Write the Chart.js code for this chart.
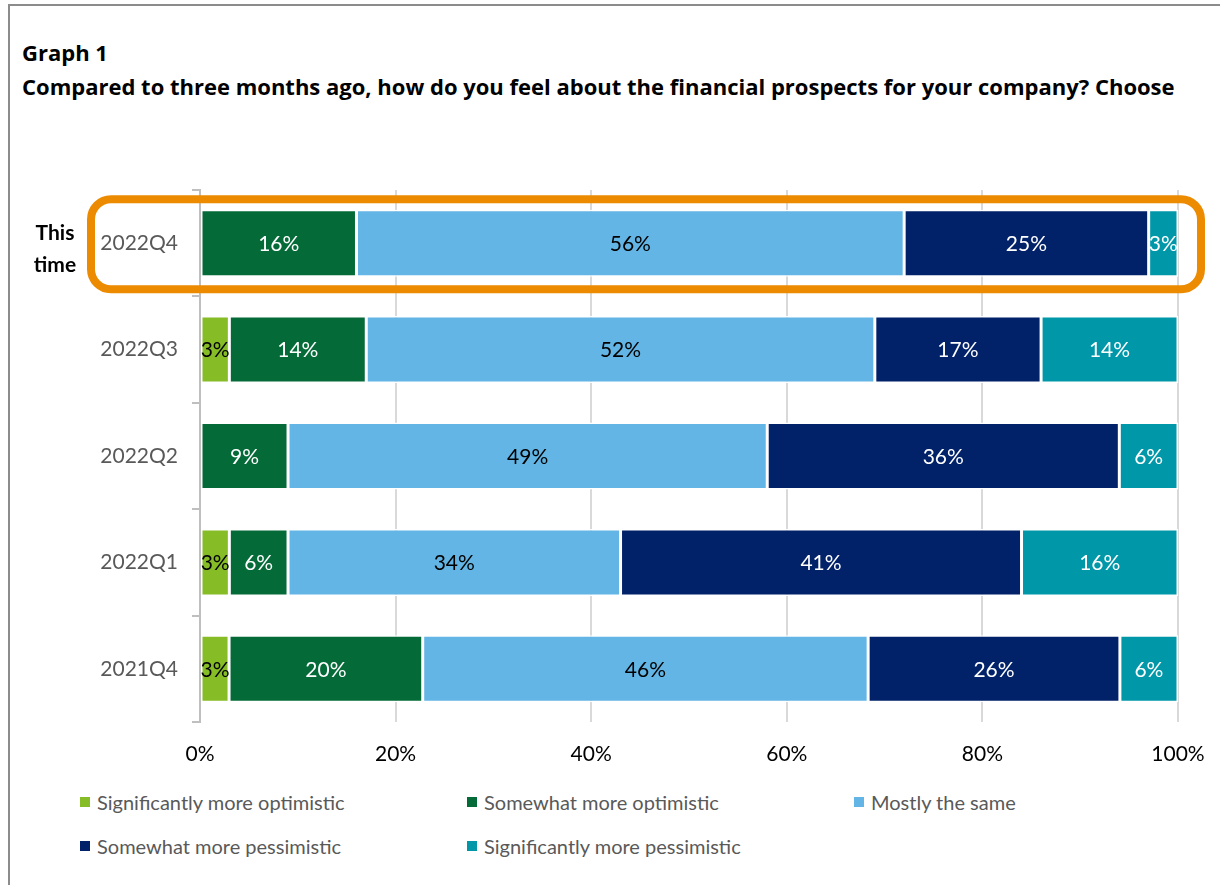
<!DOCTYPE html>
<html>
<head>
<meta charset="utf-8">
<script src="https://cdn.jsdelivr.net/npm/chart.js@4.4.1/dist/chart.umd.min.js"></script>
<style>
    html, body { margin: 0; padding: 0; background: #fff; }
    body { width: 1220px; height: 885px; position: relative; overflow: hidden; font-family: Lato, "Open Sans", sans-serif; }
    .frame { position: absolute; left: 8px; top: 4px; width: 1300px; height: 1000px; border-left: 2px solid #8c8c8c; border-top: 2px solid #8c8c8c; }
    .title { position: absolute; left: 22px; top: 35px; font-family: "Open Sans", sans-serif; font-weight: bold; font-size: 22px; line-height: 34px; color: #000; white-space: nowrap; }
    #chartBox { position: absolute; left: 10px; top: 170px; width: 1210px; height: 607px; }
    .legend { position: absolute; left: 80px; top: 789px; display: grid; grid-template-columns: 387px 387px 330px; row-gap: 18px; }
    .legend span { display: flex; align-items: center; font-size: 20px; color: #595959; height: 26px; white-space: nowrap; }
    .legend i { display: inline-block; width: 10px; height: 10px; margin-right: 7px; }
</style>
</head>
<body>
<div class="frame"></div>
<div class="title">Graph 1<br>Compared to three months ago, how do you feel about the financial prospects for your company? Choose</div>
<div id="chartBox"><canvas id="prospectsChart"></canvas></div>
<div class="legend" id="legend"></div>

<script>
// Survey quarters, newest first
const quarters = ['2022Q4', '2022Q3', '2022Q2', '2022Q1', '2021Q4'];

// Answer shares in percent per quarter
const sigOptimistic  = [0, 3, 0, 3, 3];
const someOptimistic = [16, 14, 9, 6, 20];
const mostlySame     = [56, 52, 49, 34, 46];
const somePessimistic = [25, 17, 36, 41, 26];
const sigPessimistic = [3, 14, 6, 16, 6];

const xTicks = [0, 20, 40, 60, 80, 100];

const answers = [
    { label: 'Significantly more optimistic', values: sigOptimistic, color: '#86BC25', text: '#000000' },
    { label: 'Somewhat more optimistic', values: someOptimistic, color: '#046A38', text: '#ffffff' },
    { label: 'Mostly the same', values: mostlySame, color: '#62B5E5', text: '#000000' },
    { label: 'Somewhat more pessimistic', values: somePessimistic, color: '#012169', text: '#ffffff' },
    { label: 'Significantly more pessimistic', values: sigPessimistic, color: '#0097A9', text: '#ffffff' }
];

// 100% stacked: scale each row by its total
const rowTotals = quarters.map((q, i) => answers.reduce((s, a) => s + a.values[i], 0));

const FONT = 'Lato, "Open Sans", sans-serif';

// Segment labels, clipped to their own bar
const segmentLabels = {
    id: 'segmentLabels',
    afterDatasetsDraw(chart) {
        const ctx = chart.ctx;
        chart.data.datasets.forEach((ds, di) => {
            const meta = chart.getDatasetMeta(di);
            meta.data.forEach((bar, i) => {
                const raw = ds.raw[i];
                if (!raw) return;
                const left = Math.min(bar.x, bar.base);
                const right = Math.max(bar.x, bar.base);
                ctx.save();
                ctx.beginPath();
                ctx.rect(left, bar.y - bar.height / 2, right - left, bar.height);
                ctx.clip();
                ctx.fillStyle = ds.labelColor;
                ctx.font = '21px ' + FONT;
                ctx.textAlign = 'center';
                ctx.textBaseline = 'middle';
                ctx.fillText(raw + '%', (left + right) / 2, bar.y + 1);
                ctx.restore();
            });
        });
    }
};

// Highlight box around the latest quarter
const latestBox = {
    id: 'latestBox',
    afterDraw(chart) {
        const ctx = chart.ctx;
        const area = chart.chartArea;
        const yc = chart.scales.y.getPixelForValue(0);
        const x0 = area.left - 109, x1 = area.right + 23;
        const y0 = yc - 44, y1 = yc + 46;
        ctx.save();
        ctx.strokeStyle = '#ED8B00';
        ctx.lineWidth = 8;
        ctx.beginPath();
        ctx.roundRect(x0, y0, x1 - x0, y1 - y0, 20);
        ctx.stroke();
        ctx.fillStyle = '#000';
        ctx.font = 'bold 21px ' + FONT;
        ctx.textAlign = 'center';
        ctx.textBaseline = 'middle';
        ctx.fillText('This', area.left - 145, yc - 10);
        ctx.fillText('time', area.left - 145, yc + 22);
        ctx.restore();
    }
};

const chart = new Chart(document.getElementById('prospectsChart'), {
    type: 'bar',
    data: {
        labels: quarters,
        datasets: answers.map(a => ({
            label: a.label,
            raw: a.values,
            data: a.values.map((v, i) => v / rowTotals[i] * 100),
            backgroundColor: a.color,
            borderColor: '#ffffff',
            borderWidth: 1.5,
            borderSkipped: false,
            labelColor: a.text,
            categoryPercentage: 1,
            barPercentage: 0.63
        }))
    },
    options: {
        indexAxis: 'y',
        responsive: true,
        maintainAspectRatio: false,
        animation: false,
        layout: { padding: { top: 20, right: 42, left: 0, bottom: 0 } },
        plugins: {
            legend: { display: false },
            tooltip: { enabled: false }
        },
        scales: {
            x: {
                stacked: true,
                min: 0,
                max: 100,
                afterBuildTicks(scale) {
                    scale.ticks = xTicks.map(v => ({ value: v }));
                },
                afterFit(scale) {
                    scale.height = 55;
                    scale.paddingLeft = 0;
                    scale.paddingRight = 0;
                },
                ticks: {
                    padding: 20,
                    color: '#000',
                    font: { family: FONT, size: 21 },
                    callback: v => v + '%'
                },
                grid: { color: '#d9d9d9', lineWidth: 2, drawTicks: false },
                border: { display: false }
            },
            y: {
                stacked: true,
                afterFit(scale) {
                    scale.width = 190;
                    scale.paddingTop = 0;
                    scale.paddingBottom = 0;
                },
                ticks: {
                    padding: 14,
                    color: '#595959',
                    font: { family: FONT, size: 21 }
                },
                grid: { drawOnChartArea: false, color: '#bfbfbf', lineWidth: 2, tickLength: 8, offset: true },
                border: { color: '#bfbfbf', width: 2 }
            }
        }
    },
    plugins: [segmentLabels, latestBox]
});

// Legend rows built from the datasets
const legendEl = document.getElementById('legend');
chart.data.datasets.forEach(ds => {
    const item = document.createElement('span');
    item.innerHTML = '<i style="background:' + ds.backgroundColor + '"></i>' + ds.label;
    legendEl.appendChild(item);
});
</script>
</body>
</html>
